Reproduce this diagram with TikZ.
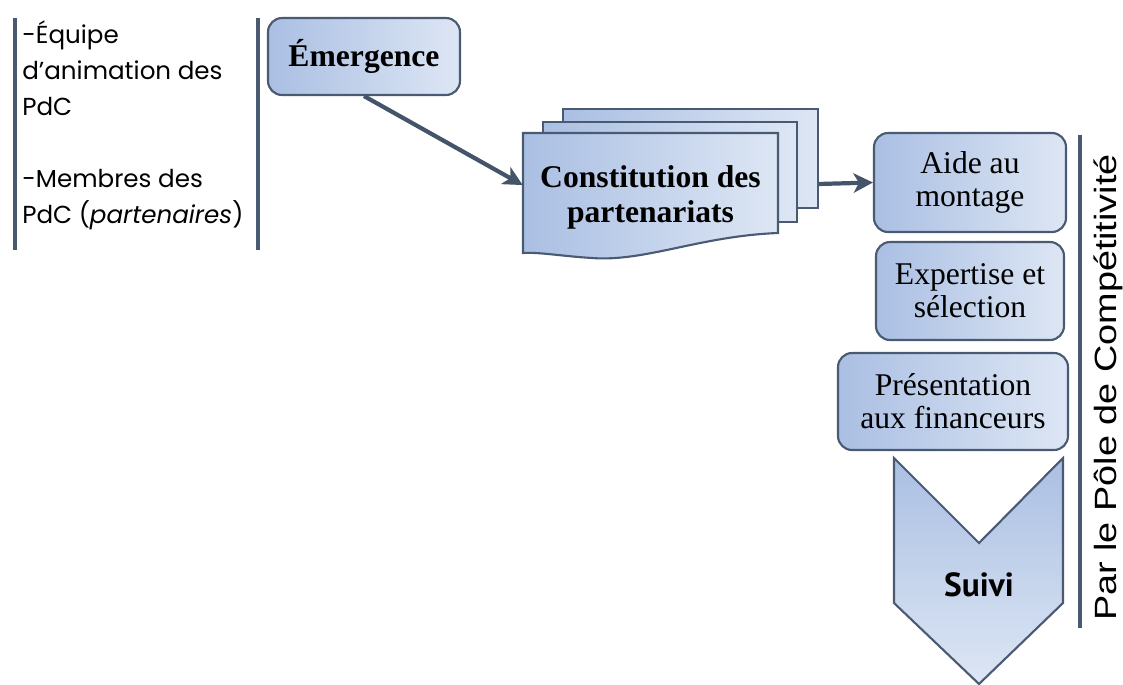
\documentclass[tikz,border=0pt]{standalone}
\usepackage{fontspec}
\setmainfont{Liberation Serif}
\newfontfamily\gothique{Poppins}
\newfontfamily\arial{Liberation Sans}
\newfontfamily\ptsans{PT Sans}
\usetikzlibrary{arrows.meta}
\definecolor{ardoise}{HTML}{44546A}
\definecolor{bord}{HTML}{4A5A72}
\definecolor{bleuG}{HTML}{AABFE3}
\definecolor{bleuD}{HTML}{DDE6F4}

\begin{document}
\begin{tikzpicture}[x=0.02cm,y=-0.02cm,
        etape/.style={draw=bord,line width=1.2pt,rounded corners=0.28cm,left color=bleuG,right color=bleuD,align=center,inner sep=0pt},
        feuille/.style={draw=bord,line width=1.2pt,left color=bleuG,right color=bleuD},
        fleche/.style={draw=ardoise,line width=2.4pt,-{Stealth[length=11pt,width=11pt,inset=3pt]}},
        barre/.style={draw=bord,line width=2pt},
        font=\fontsize{18}{18.8}\selectfont]

    \useasboundingbox (0,0) rectangle (1123,684);

    \draw[barre] (15,18) -- (15,250);
    \draw[barre] (258,18) -- (258,250);
    \draw[barre] (1080,135) -- (1080,628);

    \node[anchor=north west,align=left,inner sep=0pt,font=\gothique\fontsize{14}{20.5}\selectfont] (acteurs) at (22,20)
        {-Équipe\\d’animation des\\PdC\\[20.5pt]-Membres des\\PdC (\textit{partenaires})};

    \node[etape,minimum width=3.84cm,minimum height=1.54cm,font=\bfseries\fontsize{18}{20}\selectfont] (emergence) at (364,56.5) {Émergence};

    \node[feuille,minimum width=5.1cm,minimum height=1.98cm] (feuille3) at (690.5,158.5) {};
    \node[feuille,minimum width=5.08cm,minimum height=2cm] (feuille2) at (670,172) {};
    \path[feuille] (523,133) -- (778,133) -- (778,233)
        .. controls (700,236) and (645,262) .. (592,258)
        .. controls (560,256) and (540,252) .. (523,253) -- cycle;
    \node[align=center,minimum width=5.1cm,minimum height=2.4cm,inner sep=0pt,font=\bfseries\fontsize{18}{20}\selectfont] (constitution) at (650.5,197) {Constitution des\\partenariats};

    \node[etape,minimum width=3.84cm,minimum height=1.98cm] (aide) at (970,182.5) {Aide au\\montage};
    \node[etape,minimum width=3.76cm,minimum height=1.96cm] (expertise) at (970,291) {Expertise et\\sélection};
    \node[etape,minimum width=4.6cm,minimum height=1.94cm] (presentation) at (953,401.5) {Présentation\\aux financeurs};

    \path[draw=bord,line width=1.2pt,top color=bleuG,bottom color=bleuD]
        (894,458) -- (979,543) -- (1063,458) -- (1063,603) -- (979,684) -- (894,603) -- cycle;
    \node[font=\ptsans\bfseries\fontsize{19}{19}\selectfont] (suivi) at (979,585) {Suivi};

    \node[rotate=90,anchor=base,inner sep=0pt,font=\arial\fontsize{17.5}{17.5}\selectfont] (pole) at (1116,387.5)
        {\scalebox{1.23}[1]{Par le Pôle de Compétitivité}};

    \draw[fleche] (emergence.south) -- ([yshift=6.8pt]constitution.west);
    \draw[fleche] ([yshift=-14.5pt]feuille3.east) -- (aide.west);
\end{tikzpicture}
\end{document}
